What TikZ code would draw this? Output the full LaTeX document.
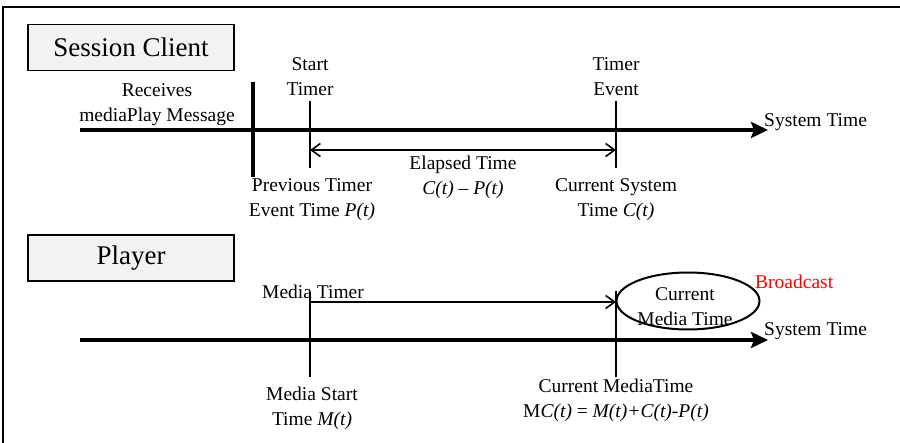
\documentclass[tikz,border=0pt]{standalone}
\usepackage{fontspec}
\setmainfont{Liberation Serif}
\usetikzlibrary{arrows.meta,shapes.geometric,positioning}

\definecolor{boxgray}{HTML}{F2F2F2}
\tikzset{
	lbl/.style={align=center,inner sep=0pt,font=\fontsize{19.5}{25}\selectfont},
	titlebox/.style={draw,line width=1.8pt,fill=boxgray,minimum width=206pt,minimum height=46pt,font=\fontsize{27}{30}\selectfont},
	axis/.style={line width=4.5pt,-{Stealth[length=17pt,width=16pt,inset=3pt]}},
	tick/.style={line width=1.6pt},
	span/.style={line width=1.6pt,{Straight Barb[length=9pt,width=13pt]}-{Straight Barb[length=9pt,width=13pt]}}
}

\begin{document}
\begin{tikzpicture}[x=1pt,y=-1pt]
		\useasboundingbox (0,0) rectangle (900,443);
		\draw[line width=2pt] (3,450) -- (3,7) -- (905,7);
		
		% session client
		\node[titlebox] (client) at (131,47.5) {Session Client};
		\coordinate (ax1s) at (80,130); \coordinate (ax1e) at (768,130);
		\draw[axis] (ax1s) -- (ax1e);
		\coordinate (recvtop) at (253,82); \coordinate (recvbot) at (253,177);
		\draw[line width=4.5pt] (recvtop) -- (recvbot);
		\coordinate (sttop) at (310,101); \coordinate (stbot) at (310,168);
		\coordinate (evtop) at (616,101); \coordinate (evbot) at (616,168);
		\draw[tick] (sttop) -- (stbot); \draw[tick] (evtop) -- (evbot);
		\coordinate (spl) at (310,150); \coordinate (spr) at (616,150);
		\draw[span] (spl) -- (spr);
		
		\node[lbl] (recv) at (157,105) {Receives\\mediaPlay Message};
		\node[lbl] (start) at (310,77) {Start\\Timer};
		\node[lbl] (event) at (616,77) {Timer\\Event};
		\node[lbl] (elapsed) at (463,177) {Elapsed Time\\\textit{C(t) – P(t)}};
		\node[lbl] (prev) at (312,200) {Previous Timer\\Event Time \textit{P(t)}};
		\node[lbl] (cursys) at (616,200) {Current System\\Time \textit{C(t)}};
		\node[lbl,anchor=west] (sys1) at (764,122) {System Time};
		
		% player
		\node[titlebox] (player) at (131,258) {Player};
		\coordinate (ax2s) at (80,340); \coordinate (ax2e) at (768,340);
		\draw[axis] (ax2s) -- (ax2e);
		\coordinate (mttop) at (310,292); \coordinate (mtbot) at (310,377);
		\coordinate (cmtop) at (616,291); \coordinate (cmbot) at (616,377);
		\draw[tick] (mttop) -- (mtbot); \draw[tick] (cmtop) -- (cmbot);
		\coordinate (mal) at (310,302); \coordinate (mar) at (616,302);
		\draw[tick,-{Straight Barb[length=9pt,width=13pt]}] (mal) -- (mar);
		\node[ellipse,draw,line width=2pt,minimum width=143pt,minimum height=57pt] (oval) at (688,301) {};
		
		\node[lbl] (mtimer) at (313,292) {Media Timer};
		\node[lbl] (cmedia) at (685,307) {Current\\Media Time};
		\node[lbl,anchor=west,text=red] (bcast) at (755,282) {Broadcast};
		\node[lbl,anchor=west] (sys2) at (764,331) {System Time};
		\node[lbl] (mstart) at (312,408) {Media Start\\Time \textit{M(t)}};
		\node[lbl] (curmedia) at (616,400) {Current MediaTime\\M\textit{C(t)} = \textit{M(t)+C(t)-P(t)}};
\end{tikzpicture}
\end{document}
